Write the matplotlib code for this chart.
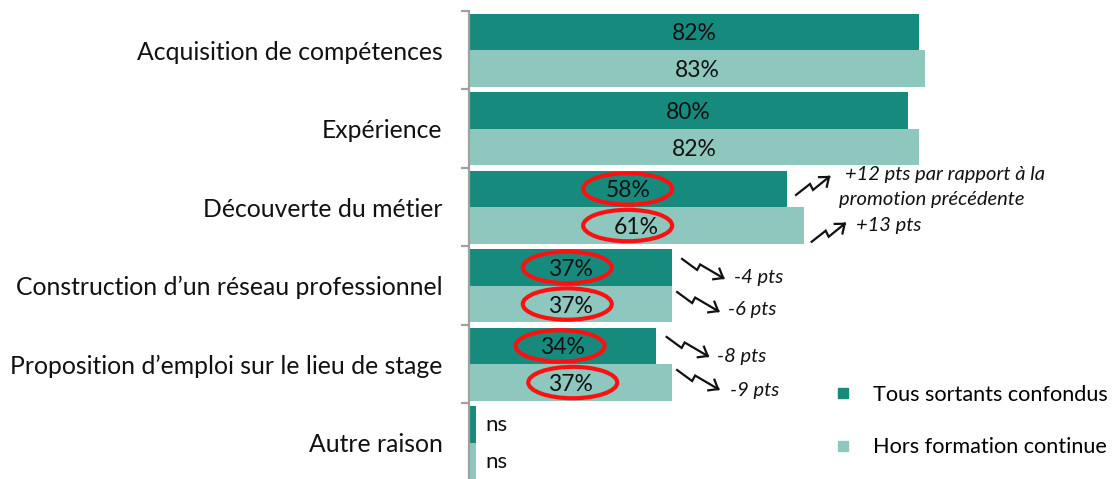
import numpy as np
import matplotlib
matplotlib.use("Agg")
import matplotlib.pyplot as plt
from matplotlib.patches import Ellipse
from matplotlib.lines import Line2D
from matplotlib.transforms import Affine2D, ScaledTranslation

plt.rcParams['font.family'] = ['Lato', 'DejaVu Sans']

# ---- data ----
categories = ["Acquisition de compétences", "Expérience", "Découverte du métier",
              "Construction d\u2019un réseau professionnel",
              "Proposition d\u2019emploi sur le lieu de stage", "Autre raison"]
tous = [82, 80, 58, 37, 34, 1.2]
hors = [83, 82, 61, 37, 37, 1.2]
tous_labels = ["82%", "80%", "58%", "37%", "34%", "ns"]
hors_labels = ["83%", "82%", "61%", "37%", "37%", "ns"]
series_names = ["Tous sortants confondus", "Hors formation continue"]

# circled values: (category index, series 0=tous / 1=hors)
circled = [(2, 0), (2, 1), (3, 0), (3, 1), (4, 0), (4, 1)]
# evolution annotations: (category, series, direction, text)
evolutions = [(2, 0, 'up', "+12 pts par rapport à la"),
              (2, 1, 'up', "+13 pts"),
              (3, 0, 'down', "-4 pts"),
              (3, 1, 'down', "-6 pts"),
              (4, 0, 'down', "-8 pts"),
              (4, 1, 'down', "-9 pts")]
extra_line = "promotion précédente"

# ---- style ----
DARK = "#168B7D"
LIGHT = "#8DC7BE"
AXIS = "#A0A0A0"

W, H, DPI = 1119, 479, 100
fig = plt.figure(figsize=(W / DPI, H / DPI), dpi=DPI)
ax = fig.add_axes([469 / W, -3 / H, 549 / W, 471 / H])

n = len(categories)
y = np.arange(n)
bh = 0.465
off = 0.233
ax.barh(y - off, tous, height=bh, color=DARK, label=series_names[0])
ax.barh(y + off, hors, height=bh, color=LIGHT, label=series_names[1])

ax.set_xlim(0, 100)
ax.set_ylim(n - 0.5, -0.5)

# value labels
for i in range(n):
    for vals, labs, yy in ((tous, tous_labels, y[i] - off), (hors, hors_labels, y[i] + off)):
        if labs[i] == "ns":
            ax.annotate(labs[i], (vals[i], yy), xytext=(10, -1), textcoords='offset pixels',
                        ha='left', va='center', fontsize=16, color='#111111')
        else:
            ax.annotate(labs[i], (vals[i] / 2, yy), xytext=(0, -2),
                        textcoords='offset pixels', ha='center', va='center',
                        fontsize=16.5, color='#111111')

# red ellipses
ell_dx = {(2, 0): -0.1, (2, 1): -1.6, (3, 0): -0.6, (3, 1): -0.6, (4, 0): -0.4, (4, 1): 0.4}
for (c, s) in circled:
    v = tous[c] if s == 0 else hors[c]
    yy = y[c] - off if s == 0 else y[c] + off
    e = Ellipse((v / 2 + ell_dx[(c, s)], yy), width=16.2, height=0.40,
                fill=False, edgecolor='#FF1010', linewidth=3.0, zorder=5)
    ax.add_patch(e)

# zig-zag arrows
shape_up = np.array([(0, 0), (14, -11), (17, -5), (33, -18)], float)
shape_down = np.array([(0, 0), (15, 11), (18, 5.5), (41, 19)], float)
arrow_start = {(2, 0): (8.6, 6), (2, 1): (7.8, 16.2), (3, 0): (10, -8.5),
               (3, 1): (5, -12), (4, 0): (11, -9), (4, 1): (5, -12.5)}
text_off = {(2, 0): (57.6, -14), (2, 1): (52, 0), (3, 0): (62, 10.5),
            (3, 1): (56, 5), (4, 0): (61, 11), (4, 1): (58, 7.5)}

for (c, s, d, txt) in evolutions:
    v = tous[c] if s == 0 else hors[c]
    yy = y[c] - off if s == 0 else y[c] + off
    trans = Affine2D().scale(1, -1) + ScaledTranslation(v, yy, ax.transData)
    shp = (shape_up if d == 'up' else shape_down) + np.array(arrow_start[(c, s)])
    ax.plot(shp[:, 0], shp[:, 1], color='#111111', lw=1.6, transform=trans,
            clip_on=False, solid_joinstyle='miter')
    # open arrow head
    tip = shp[-1]
    vec = tip - shp[-2]
    vec = vec / np.hypot(*vec)
    for ang in (np.deg2rad(38), -np.deg2rad(38)):
        rot = np.array([[np.cos(ang), -np.sin(ang)], [np.sin(ang), np.cos(ang)]])
        p = tip - 10 * rot @ vec
        ax.plot([tip[0], p[0]], [tip[1], p[1]], color='#111111', lw=1.6,
                transform=trans, clip_on=False, solid_capstyle='projecting')
    tx, ty = text_off[(c, s)]
    ax.annotate(txt, (v, yy), xytext=(tx, -ty), textcoords='offset pixels',
                ha='left', va='center', fontsize=14.5, style='italic',
                color='#111111', annotation_clip=False)
    if (c, s) == (2, 0):
        ax.annotate(extra_line, (v, yy), xytext=(tx - 6, -(ty + 25)),
                    textcoords='offset pixels', ha='left', va='center',
                    fontsize=14.5, style='italic', color='#111111',
                    annotation_clip=False)

# axes styling
for sp in ('top', 'right', 'bottom'):
    ax.spines[sp].set_visible(False)
ax.spines['left'].set_color(AXIS)
ax.spines['left'].set_linewidth(1.6)
ax.set_xticks([])
ax.set_yticks(y)
ax.set_yticklabels(categories, fontsize=17.8, color='#111111')
ax.tick_params(axis='y', which='major', length=0, pad=19)
ax.set_yticks(np.arange(n + 1) - 0.5, minor=True)
ax.tick_params(axis='y', which='minor', length=6, width=1.6, color=AXIS)

# legend
handles = [Line2D([], [], marker='s', ls='', color=DARK, markersize=7),
           Line2D([], [], marker='s', ls='', color=LIGHT, markersize=7)]
fig.legend(handles, series_names, loc='center left',
           bbox_to_anchor=(832 / W, 1 - 421 / H), frameon=False,
           fontsize=15.6, handlelength=1.0, handletextpad=0.9,
           labelspacing=1.5, borderpad=0, borderaxespad=0)

fig.savefig("out.png", dpi=DPI)
